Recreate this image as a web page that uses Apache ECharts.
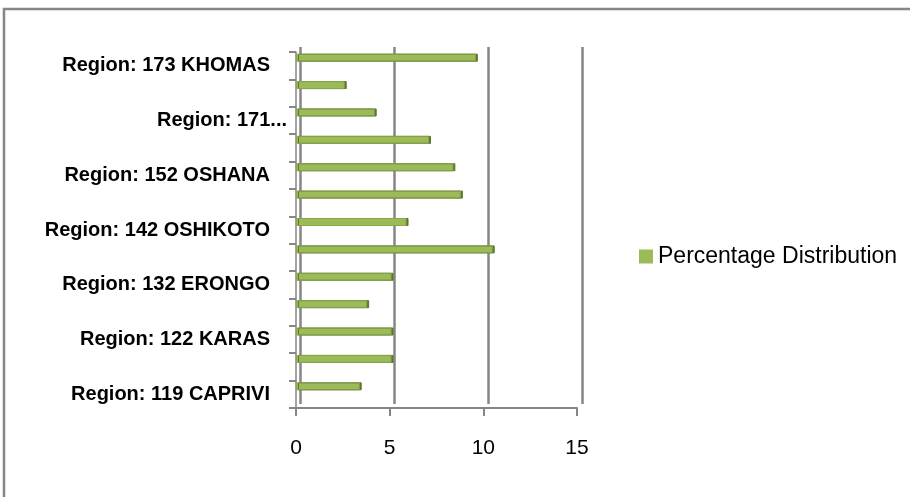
<!DOCTYPE html>
<html>
<head>
<meta charset="utf-8">
<script src="https://cdn.jsdelivr.net/npm/echarts@6/dist/echarts.min.js"></script>
<style>
  html, body { margin: 0; padding: 0; background: #fff; }
  #chart { width: 910px; height: 497px; }
</style>
</head>
<body>
<div id="chart"></div>
<script>
// categories, bottom to top (only every other one is labelled in the picture)
const regions = [
  'Region: 119 CAPRIVI',
  'Region: 121 HARDAP',
  'Region: 122 KARAS',
  'Region: 131 KUNENE',
  'Region: 132 ERONGO',
  'Region: 141 OHANGWENA',
  'Region: 142 OSHIKOTO',
  'Region: 151 OMUSATI',
  'Region: 152 OSHANA',
  'Region: 161 OMAHEKE',
  'Region: 171 OTJOZONDJUPA',
  'Region: 172 KAVANGO',
  'Region: 173 KHOMAS'
]
const percentValues = [3.4, 5.1, 5.1, 3.8, 5.1, 10.5, 5.9, 8.8, 8.4, 7.1, 4.2, 2.6, 9.6]
const xTicks = [0, 5, 10, 15]

const seriesName = 'Percentage Distribution'
const gridColor = '#868686'
const barGreen = '#9bbb59'

const chart = echarts.init(document.getElementById('chart'))

const option = {
  animation: false,
  backgroundColor: '#ffffff',
  graphic: [
    {
      type: 'polyline',
      shape: { points: [[4, 497], [4, 9], [910, 9]] },
      style: { stroke: gridColor, lineWidth: 2.5, fill: null },
      silent: true
    }
  ],
  legend: {
    data: [seriesName],
    left: 634,
    top: 240,
    orient: 'vertical',
    icon: 'rect',
    itemWidth: 14,
    itemHeight: 14,
    itemGap: 0,
    itemStyle: { borderWidth: 0, shadowBlur: 0, shadowOffsetX: 0 },
    textStyle: {
      fontFamily: 'Liberation Sans',
      fontSize: 23,
      color: '#000'
    }
  },
  grid: [
    // front plane: bars and axes
    { left: 296, right: 333, top: 52, bottom: 89 },
    // back wall: gridlines, shifted up and right for the 3-D look
    { left: 300, right: 328, top: 47, bottom: 93 }
  ],
  xAxis: [
    {
      gridIndex: 0,
      type: 'value',
      min: xTicks[0],
      max: xTicks[xTicks.length - 1],
      interval: xTicks[1] - xTicks[0],
      axisLine: { show: true, lineStyle: { color: gridColor, width: 2 } },
      axisTick: { show: true, length: 8, lineStyle: { color: gridColor, width: 2 } },
      splitLine: { show: false },
      axisLabel: {
        margin: 30,
        fontFamily: 'Liberation Sans',
        fontSize: 21,
        color: '#000'
      }
    },
    {
      gridIndex: 1,
      type: 'value',
      min: xTicks[0],
      max: xTicks[xTicks.length - 1],
      interval: xTicks[1] - xTicks[0],
      axisLine: { show: false },
      axisTick: { show: false },
      axisLabel: { show: false },
      splitLine: { show: true, lineStyle: { color: gridColor, width: 2.5 } }
    }
  ],
  yAxis: [
    {
      gridIndex: 0,
      type: 'category',
      data: regions,
      axisLine: { show: true, lineStyle: { color: gridColor, width: 1.5 } },
      axisTick: { show: true, interval: 0, length: 7, lineStyle: { color: gridColor, width: 2 } },
      axisLabel: {
        interval: 1,
        margin: 9,
        formatter: function (name) {
          if (name.length > 20) {
            return '{cut|' + name.slice(0, 11) + '...}'
          }
          return '{full|' + name + '}'
        },
        rich: {
          full: {
            fontFamily: 'Liberation Sans',
            fontWeight: 'bold',
            fontSize: 20,
            color: '#000',
            padding: [0, 17, 0, 0]
          },
          cut: {
            fontFamily: 'Liberation Sans',
            fontWeight: 'bold',
            fontSize: 20,
            color: '#000'
          }
        }
      }
    },
    {
      gridIndex: 1,
      type: 'category',
      data: regions,
      show: false
    }
  ],
  series: [
    {
      name: seriesName,
      type: 'bar',
      xAxisIndex: 0,
      yAxisIndex: 0,
      data: percentValues,
      barWidth: 8,
      barGap: '100%',
      itemStyle: {
        color: barGreen,
        borderColor: '#8ba64f',
        borderWidth: 1,
        shadowColor: '#5f7530',
        shadowOffsetX: 2,
        shadowBlur: 0
      }
    },
    {
      // empty spacer series so the real bars sit in the upper half of each band
      name: 'spacer',
      type: 'bar',
      xAxisIndex: 0,
      yAxisIndex: 0,
      data: regions.map(() => '-'),
      barWidth: 8,
      barGap: '100%',
      silent: true
    }
  ]
}

chart.setOption(option)
</script>
</body>
</html>
